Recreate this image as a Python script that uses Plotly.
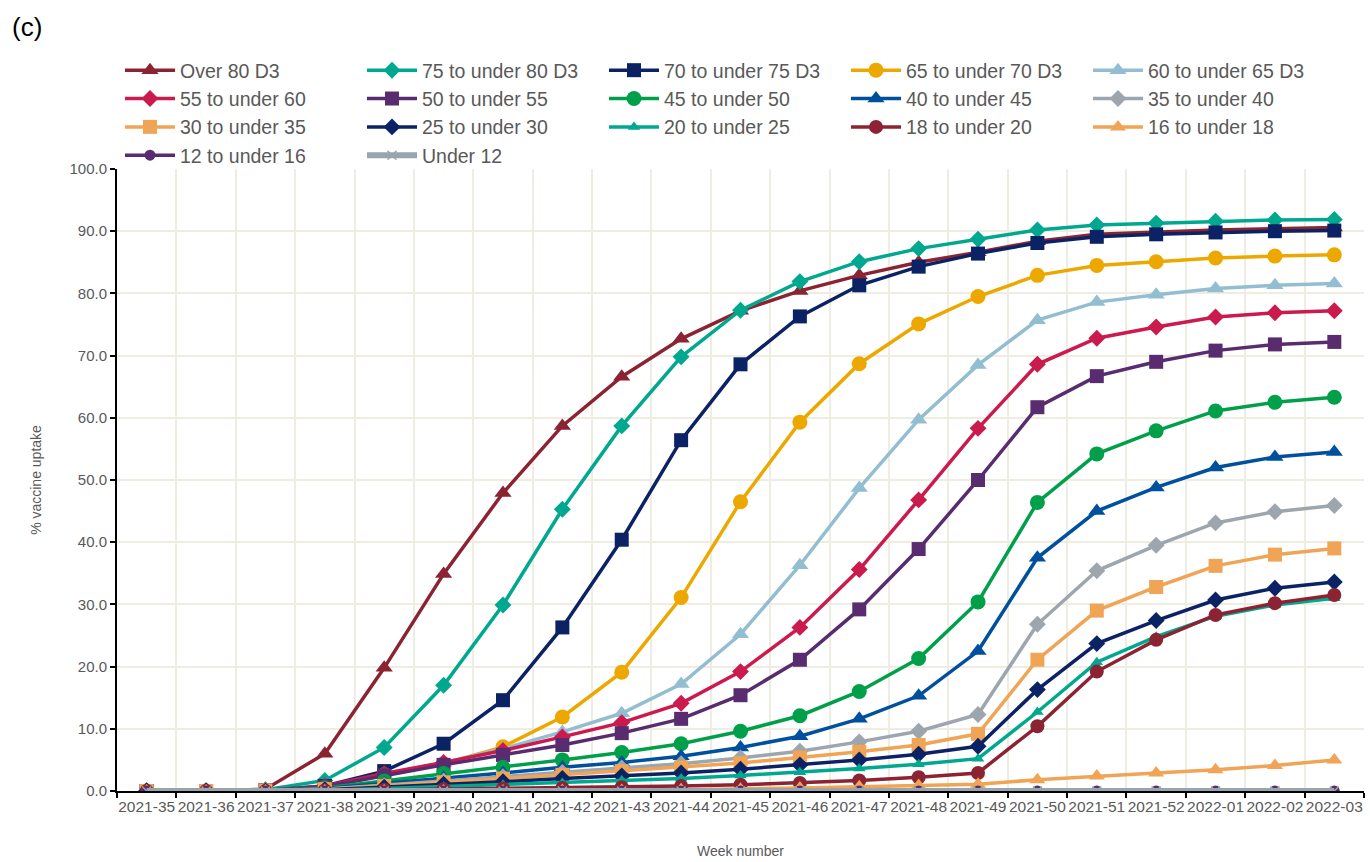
import plotly.graph_objects as go

weeks = ['2021-35', '2021-36', '2021-37', '2021-38', '2021-39', '2021-40', '2021-41',
         '2021-42', '2021-43', '2021-44', '2021-45', '2021-46', '2021-47', '2021-48',
         '2021-49', '2021-50', '2021-51', '2021-52', '2022-01', '2022-02', '2022-03']

# % uptake per age group
over_80 = [0, 0, 0.3, 6.0, 19.8, 34.9, 47.9, 58.7, 66.6, 72.7, 77.2, 80.4, 82.9, 85.0, 86.6, 88.4, 89.5, 89.9, 90.2, 90.4, 90.6]
age_75_80 = [0, 0, 0.2, 1.7, 7.0, 17.0, 29.9, 45.3, 58.7, 69.8, 77.3, 81.9, 85.1, 87.2, 88.7, 90.2, 91.0, 91.3, 91.6, 91.8, 91.9]
age_70_75 = [0, 0, 0.1, 0.8, 3.2, 7.6, 14.6, 26.3, 40.4, 56.4, 68.6, 76.3, 81.3, 84.3, 86.4, 88.1, 89.1, 89.5, 89.8, 90.0, 90.1]
age_65_70 = [0, 0, 0.1, 0.6, 2.6, 4.4, 7.1, 11.9, 19.1, 31.1, 46.5, 59.3, 68.7, 75.1, 79.5, 82.9, 84.5, 85.1, 85.7, 86.0, 86.2]
age_60_65 = [0, 0, 0.1, 0.7, 2.7, 4.5, 6.8, 9.5, 12.5, 17.2, 25.2, 36.3, 48.7, 59.7, 68.5, 75.7, 78.6, 79.8, 80.8, 81.3, 81.6]
age_55_60 = [0, 0, 0.1, 0.8, 2.8, 4.6, 6.5, 8.7, 11.0, 14.1, 19.2, 26.3, 35.6, 46.8, 58.3, 68.6, 72.8, 74.6, 76.2, 76.9, 77.2]
age_50_55 = [0, 0, 0.1, 0.7, 2.5, 4.2, 5.8, 7.4, 9.3, 11.6, 15.4, 21.1, 29.2, 38.9, 50.0, 61.7, 66.7, 69.0, 70.8, 71.8, 72.2]
age_45_50 = [0, 0, 0.1, 0.5, 1.6, 2.8, 3.8, 5.0, 6.2, 7.6, 9.6, 12.1, 16.0, 21.3, 30.4, 46.4, 54.2, 57.9, 61.1, 62.5, 63.3]
age_40_45 = [0, 0, 0.1, 0.4, 1.2, 2.1, 2.9, 3.8, 4.6, 5.6, 7.0, 8.8, 11.6, 15.3, 22.5, 37.5, 45.0, 48.8, 52.0, 53.7, 54.5]
age_35_40 = [0, 0, 0.1, 0.3, 0.9, 1.6, 2.3, 3.0, 3.7, 4.4, 5.3, 6.4, 7.9, 9.6, 12.3, 26.8, 35.4, 39.5, 43.1, 44.9, 45.9]
age_30_35 = [0, 0, 0.1, 0.3, 0.8, 1.4, 2.0, 2.6, 3.2, 3.8, 4.5, 5.4, 6.3, 7.4, 9.2, 21.1, 29.0, 32.8, 36.2, 38.0, 39.0]
age_25_30 = [0, 0, 0.0, 0.2, 0.6, 1.1, 1.5, 2.0, 2.4, 2.9, 3.5, 4.2, 5.0, 5.9, 7.2, 16.3, 23.7, 27.4, 30.7, 32.6, 33.6]
age_20_25 = [0, 0, 0.0, 0.1, 0.4, 0.7, 1.0, 1.3, 1.7, 2.0, 2.5, 3.0, 3.6, 4.3, 5.2, 12.7, 20.7, 24.8, 28.1, 29.9, 31.0]
age_18_20 = [0, 0, 0.0, 0.1, 0.2, 0.3, 0.4, 0.5, 0.6, 0.8, 1.0, 1.3, 1.7, 2.2, 2.9, 10.4, 19.2, 24.3, 28.3, 30.2, 31.5]
age_16_18 = [0, 0, 0, 0, 0, 0, 0, 0.1, 0.1, 0.2, 0.3, 0.5, 0.7, 0.9, 1.1, 1.8, 2.4, 2.9, 3.4, 4.1, 5.0]
age_12_16 = [0] * 21
under_12 = [0] * 21

series = [
    ('Over 80 D3', over_80, '#8B2332', 'triangle-up', 15),
    ('75 to under 80 D3', age_75_80, '#00A88F', 'diamond', 13),
    ('70 to under 75 D3', age_70_75, '#0B2265', 'square', 14),
    ('65 to under 70 D3', age_65_70, '#EDA800', 'circle', 15),
    ('60 to under 65 D3', age_60_65, '#93BDD1', 'triangle-up', 15),
    ('55 to under 60', age_55_60, '#CB1A4D', 'diamond', 13),
    ('50 to under 55', age_50_55, '#582C6F', 'square', 14),
    ('45 to under 50', age_45_50, '#00A04B', 'circle', 15),
    ('40 to under 45', age_40_45, '#00509D', 'triangle-up', 15),
    ('35 to under 40', age_35_40, '#9DA5AE', 'diamond', 13),
    ('30 to under 35', age_30_35, '#F0A455', 'square', 14),
    ('25 to under 30', age_25_30, '#0B2265', 'diamond', 13),
    ('20 to under 25', age_20_25, '#00A88F', 'triangle-up', 11),
    ('18 to under 20', age_18_20, '#8B2332', 'circle', 14),
    ('16 to under 18', age_16_18, '#F0A455', 'triangle-up', 14),
    ('12 to under 16', age_12_16, '#582C6F', 'circle', 11),
    ('Under 12', under_12, '#9AA4AE', 'x-thin-open', 9),
]

fig = go.Figure()
for name, vals, col, sym, size in series:
    wide = name == 'Under 12'
    fig.add_trace(go.Scatter(
        x=weeks, y=vals, name=name, mode='lines+markers',
        line=dict(color=col, width=6 if wide else 3.5),
        marker=dict(symbol=sym, size=size, color=col,
                    line=dict(width=1.5 if wide else 0, color=col)),
    ))

fig.update_layout(
    width=1370, height=862,
    margin=dict(l=117, r=6, t=169, b=71),
    plot_bgcolor='white', paper_bgcolor='white',
    font=dict(family='Liberation Sans, Arial, sans-serif', color='#595959'),
    showlegend=True,
    legend=dict(orientation='h', x=3 / 1247, xanchor='left',
                y=1 + 118 / 622, yanchor='top',
                font=dict(size=19.5, color='#595959'),
                entrywidth=177, itemwidth=50, tracegroupgap=0,
                bgcolor='rgba(0,0,0,0)'),
    annotations=[dict(text='(c)', xref='paper', yref='paper', x=-107 / 1247, y=1 + 142 / 622,
                      xanchor='left', yanchor='middle', showarrow=False,
                      font=dict(size=26, color='black'))],
)

fig.update_xaxes(
    type='category', categoryorder='array', categoryarray=weeks,
    range=[-0.5, 20.5], tickson='boundaries', tickangle=0, automargin=False,
    tickmode='array', tickvals=weeks, ticktext=weeks,
    tickfont=dict(size=15.5, color='#595959'),
    ticks='outside', ticklen=5, tickcolor='black', tickwidth=2,
    showline=True, linecolor='black', linewidth=2,
    showgrid=True, gridcolor='#EFECE2', gridwidth=2,
    title=dict(text='Week number', font=dict(size=14, color='#595959'), standoff=33),
)
fig.update_yaxes(
    range=[0, 100], dtick=10, tickformat='.1f', automargin=False,
    tickfont=dict(size=15, color='#595959'),
    ticks='outside', ticklen=5, tickcolor='black', tickwidth=2,
    showline=True, linecolor='black', linewidth=2,
    showgrid=True, gridcolor='#EFECE2', gridwidth=2, zeroline=False,
    title=dict(text='% vaccine uptake', font=dict(size=14, color='#595959'), standoff=25),
)

fig.write_html('out.html', config={'displayModeBar': False},
               post_script="document.body.style.margin='0px';")
